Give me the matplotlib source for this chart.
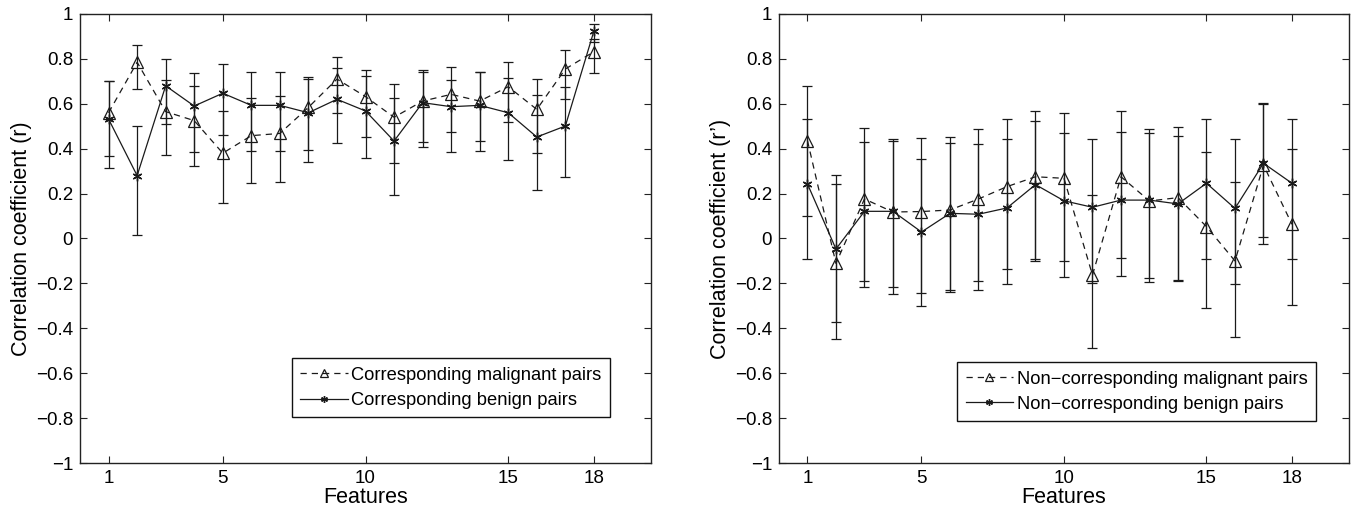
import matplotlib
matplotlib.use('Agg')
import matplotlib.pyplot as plt
import numpy as np

plt.rcParams['font.family'] = ['Liberation Sans', 'DejaVu Sans']

features = np.arange(1, 19)
xticks = [1, 5, 10, 15, 18]

# corresponding pairs (r) with lower / upper confidence bounds
corr_mal = [0.56, 0.785, 0.565, 0.525, 0.38, 0.458, 0.468, 0.584, 0.71,
            0.632, 0.54, 0.612, 0.642, 0.612, 0.676, 0.575, 0.755, 0.832]
corr_mal_lo = [0.315, 0.666, 0.372, 0.324, 0.157, 0.246, 0.253, 0.396, 0.56,
               0.453, 0.338, 0.431, 0.474, 0.436, 0.519, 0.381, 0.623, 0.739]
corr_mal_hi = [0.703, 0.862, 0.706, 0.679, 0.569, 0.627, 0.635, 0.718, 0.81,
               0.752, 0.687, 0.749, 0.764, 0.743, 0.788, 0.712, 0.84, 0.89]

corr_ben = [0.532, 0.28, 0.68, 0.59, 0.647, 0.593, 0.593, 0.56, 0.62,
            0.568, 0.434, 0.605, 0.587, 0.593, 0.56, 0.452, 0.501, 0.924]
corr_ben_lo = [0.367, 0.016, 0.509, 0.384, 0.461, 0.391, 0.391, 0.342, 0.424,
               0.357, 0.194, 0.409, 0.384, 0.39, 0.348, 0.215, 0.274, 0.874]
corr_ben_hi = [0.70, 0.502, 0.80, 0.737, 0.777, 0.743, 0.742, 0.712, 0.758,
               0.722, 0.626, 0.743, 0.706, 0.74, 0.716, 0.638, 0.676, 0.954]

# non-corresponding pairs (r')
non_mal = [0.436, -0.111, 0.176, 0.118, 0.12, 0.127, 0.176, 0.231, 0.275,
           0.268, -0.163, 0.275, 0.167, 0.182, 0.053, -0.10, 0.327, 0.063]
non_mal_lo = [0.10, -0.446, -0.218, -0.249, -0.241, -0.237, -0.191, -0.136, -0.09,
              -0.099, -0.486, -0.085, -0.176, -0.185, -0.311, -0.44, -0.026, -0.298]
non_mal_hi = [0.681, 0.243, 0.494, 0.442, 0.449, 0.453, 0.489, 0.532, 0.567,
              0.558, 0.192, 0.567, 0.471, 0.495, 0.385, 0.25, 0.60, 0.399]

non_ben = [0.243, -0.047, 0.121, 0.121, 0.029, 0.112, 0.108, 0.136, 0.24,
           0.168, 0.139, 0.171, 0.171, 0.154, 0.246, 0.134, 0.335, 0.246]
non_ben_lo = [-0.091, -0.373, -0.188, -0.216, -0.301, -0.229, -0.229, -0.204, -0.10,
              -0.17, -0.2, -0.167, -0.195, -0.188, -0.09, -0.204, 0.008, -0.09]
non_ben_hi = [0.531, 0.283, 0.431, 0.436, 0.356, 0.425, 0.421, 0.442, 0.525,
              0.471, 0.445, 0.474, 0.486, 0.457, 0.532, 0.442, 0.604, 0.532]

yticks = np.round(np.arange(-1, 1.01, 0.2), 1)
ytick_labels = ['\u22121', '\u22120.8', '\u22120.6', '\u22120.4', '\u22120.2',
                '0', '0.2', '0.4', '0.6', '0.8', '1']

INK = '#1a1a1a'
ASTERISK = (6, 2, 0)


def draw_series(ax, val, lo, hi, style, label):
    val = np.array(val)
    yerr = [val - np.array(lo), np.array(hi) - val]
    ax.errorbar(features, val, yerr=yerr, fmt='none', ecolor=INK,
                elinewidth=0.9, capsize=3.8, capthick=0.9)
    if style == 'mal':
        ax.plot(features, val, color=INK, lw=0.9, ls=(0, (5, 4)), marker='^',
                ms=8.5, mfc='none', mec=INK, mew=0.9, label=label)
    else:
        ax.plot(features, val, color=INK, lw=0.9, ls='-', marker=ASTERISK,
                ms=7, mec=INK, mew=1.0, label=label)


def setup_axes(ax, ylabel):
    ax.set_xlim(0, 20)
    ax.set_ylim(-1, 1)
    ax.set_xticks(xticks)
    ax.set_yticks(yticks)
    ax.set_yticklabels(ytick_labels)
    ax.tick_params(direction='in', top=True, right=True, length=5,
                   width=0.8, labelsize=13.5, pad=5, color='#222222')
    for s in ax.spines.values():
        s.set_linewidth(1.0)
        s.set_color('#222222')
    ax.set_xlabel('Features', fontsize=15.5, labelpad=0)
    ax.set_ylabel(ylabel, fontsize=15.5, labelpad=3)


fig = plt.figure(figsize=(13.54, 5.12), dpi=100)
ax1 = fig.add_axes([0.0591, 0.0957, 0.4217, 0.877])
ax2 = fig.add_axes([0.5753, 0.0957, 0.4210, 0.877])

draw_series(ax1, corr_mal, corr_mal_lo, corr_mal_hi, 'mal', 'Corresponding malignant pairs')
draw_series(ax1, corr_ben, corr_ben_lo, corr_ben_hi, 'ben', 'Corresponding benign pairs')
setup_axes(ax1, 'Correlation coefficient (r)')

draw_series(ax2, non_mal, non_mal_lo, non_mal_hi, 'mal', 'Non\u2212corresponding malignant pairs')
draw_series(ax2, non_ben, non_ben_lo, non_ben_hi, 'ben', 'Non\u2212corresponding benign pairs')
setup_axes(ax2, 'Correlation coefficient (r\u2019)')

for ax, anchor in [(ax1, (0.928, 0.102)), (ax2, (0.942, 0.0935))]:
    leg = ax.legend(loc='lower right', bbox_to_anchor=anchor, borderaxespad=0,
                    fontsize=13.2, fancybox=False, framealpha=1,
                    edgecolor='#111111', handlelength=2.6, handletextpad=0.2,
                    borderpad=0.45, labelspacing=0.45, markerscale=0.7)
    leg.get_frame().set_linewidth(1.0)

fig.savefig('out.png', dpi=100)
